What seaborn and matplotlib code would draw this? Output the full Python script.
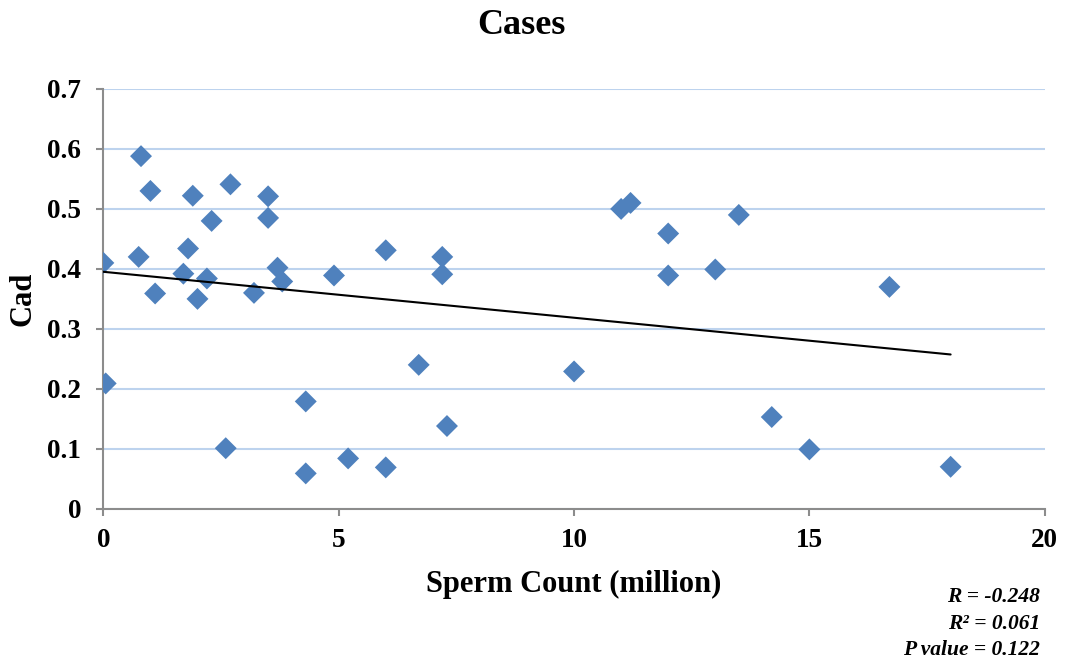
import matplotlib
matplotlib.use("Agg")
import matplotlib.pyplot as plt
import numpy as np
import pandas as pd
import seaborn as sns

# sperm count (million) vs Cad, cases group
sperm_count = [0.8, 1.0, 1.9, 2.7, 3.5, 2.3, 3.5, 0.0, 0.75, 1.8,
               1.7, 2.2, 1.1, 2.0, 3.2, 3.7, 3.8, 4.9, 6.0, 7.2,
               7.2, 0.05, 2.6, 4.3, 4.3, 5.2, 6.0, 6.7, 7.3, 11.0,
               11.2, 13.5, 12.0, 12.0, 13.0, 16.7, 10.0, 14.2, 15.0, 18.0]
cad = [0.588, 0.530, 0.522, 0.541, 0.521, 0.480, 0.485, 0.410, 0.420, 0.434,
       0.392, 0.384, 0.359, 0.350, 0.360, 0.402, 0.379, 0.389, 0.431, 0.420,
       0.391, 0.209, 0.101, 0.179, 0.059, 0.084, 0.069, 0.240, 0.138, 0.500,
       0.510, 0.490, 0.459, 0.389, 0.399, 0.370, 0.229, 0.153, 0.099, 0.070]
x_ticks = [0, 5, 10, 15, 20]
y_ticks = [0, 0.1, 0.2, 0.3, 0.4, 0.5, 0.6, 0.7]
stats_lines = ["R = -0.248", "R² = 0.061", "P value = 0.122"]

df = pd.DataFrame({"sperm": sperm_count, "cad": cad})

sns.set_theme(style="white")
plt.rcParams["font.family"] = ["Liberation Serif", "DejaVu Serif"]
plt.rcParams["font.weight"] = "bold"
for key in ["text.color", "axes.labelcolor", "xtick.labelcolor", "ytick.labelcolor"]:
    plt.rcParams[key] = "black"

fig = plt.figure(figsize=(10.71, 6.69), dpi=100)
ax = fig.add_axes([0.0965, 0.2395, 0.879, 0.6275])

sns.regplot(data=df, x="sperm", y="cad", ax=ax, ci=None, marker="D",
            scatter_kws={"s": 125, "color": "#4F81BD", "edgecolor": "none", "alpha": 1, "zorder": 3},
            line_kws={"color": "black", "lw": 1.5, "zorder": 4})

ax.set_xlim(0, 20)
ax.set_ylim(0, 0.7)
ax.set_xticks(x_ticks)
ax.set_yticks(y_ticks)
ax.set_xticklabels([str(t) for t in x_ticks])
ax.set_yticklabels(["0"] + [f"{t:.1f}" for t in y_ticks[1:]])

ax.yaxis.grid(True, color="#BDD3EE", lw=1.5)
ax.xaxis.grid(False)
ax.set_axisbelow(True)
for side in ["top", "right"]:
    ax.spines[side].set_visible(False)
for side in ["left", "bottom"]:
    ax.spines[side].set_color("#8C8C8C")
    ax.spines[side].set_linewidth(1.5)
ax.tick_params(axis="both", which="major", direction="out", length=5, width=1.5,
               color="#8C8C8C", labelsize=19.5)
ax.tick_params(axis="x", bottom=True, pad=9)
ax.tick_params(axis="y", left=True, pad=11)
for lab in ax.get_xticklabels() + ax.get_yticklabels():
    lab.set_fontweight("bold")

ax.set_xlabel("Sperm Count (million)", fontsize=22, fontweight="bold", labelpad=12)
ax.set_ylabel("Cad", fontsize=22, fontweight="bold", labelpad=7)
fig.text(0.487, 0.962, "Cases", ha="center", va="center", fontsize=26, fontweight="bold")

for line, ypos in zip(stats_lines, [0.108, 0.068, 0.028]):
    fig.text(0.971, ypos, line, ha="right", va="center", fontsize=15.5,
             fontweight="bold", fontstyle="italic")

fig.savefig("out.png", dpi=100)
